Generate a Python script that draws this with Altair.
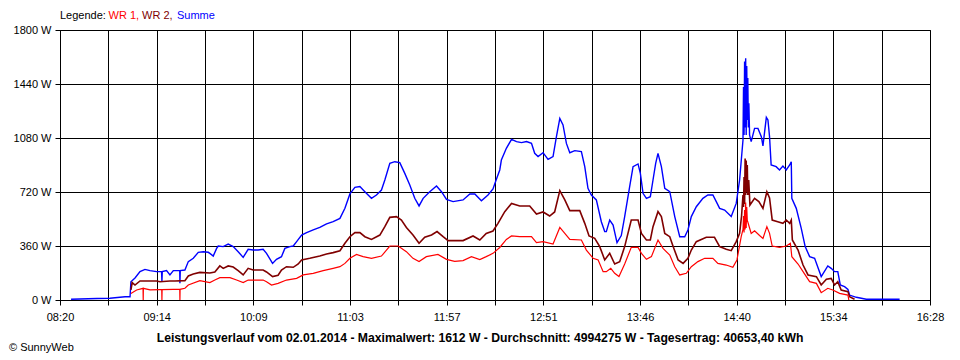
import altair as alt
import pandas as pd

# ---- data (minutes after 08:20, watts) ----
x_labels = ["08:20", "09:14", "10:09", "11:03", "11:57", "12:51", "13:46", "14:40", "15:34", "16:28"]
y_ticks = [0, 360, 720, 1080, 1440, 1800]
series_names = ["WR 1", "WR 2", "Summe"]
series_colors = ["#ff0000", "#800000", "#0000ff"]

summe_t = [6.2, 20.8, 28.0, 36.5, 39.3, 39.8, 42.1, 44.9, 47.7, 50.5, 54.2, 57.0, 57.2, 57.4, 59.8, 61.7, 63.6, 67.2, 67.3, 67.5,
           70.1, 72.0, 74.8, 77.6, 80.4, 83.2, 84.1, 86.0, 87.9, 88.8, 91.6, 94.4, 97.2, 100.0, 102.8, 105.6, 108.4, 111.2, 114.0, 115.9,
           119.3, 121.5, 124.3, 126.2, 129.0, 130.9, 132.8, 135.6, 138.4, 142.1, 145.8, 149.6, 153.3, 157.1, 159.9, 162.7, 165.5, 168.3,
           171.1, 174.8, 177.6, 180.4, 182.3, 185.1, 187.9, 190.7, 193.5, 196.3, 199.1, 201.5, 203.8, 207.5, 211.3, 214.1, 216.9, 220.6,
           226.2, 230.0, 232.8, 236.5, 240.2, 243.0, 244.9, 246.8, 247.7, 250.5, 253.4, 256.2, 259.0, 261.8, 264.6, 266.4, 268.3, 271.1,
           273.9, 276.7, 278.6, 280.5, 282.3, 284.2, 286.1, 288.9, 292.6, 294.5, 296.3, 298.2, 301.0, 303.8, 305.7, 306.6, 308.5, 310.4,
           312.6, 315.0, 316.9, 319.7, 321.6, 324.4, 325.7, 327.2, 329.1, 331.3, 332.8, 334.3, 335.6, 337.5, 339.4, 342.2, 345.0, 347.8,
           350.6, 352.4, 354.3, 357.1, 360.8, 363.6, 366.4, 368.3, 370.2, 373.0, 376.7, 379.5, 381.4, 383.3, 383.6, 383.9, 384.2, 384.5,
           384.8, 385.1, 385.4, 385.7, 386.0, 386.3, 386.6, 387.0, 387.9, 389.8, 391.7, 393.6, 394.5, 396.4, 397.3, 398.2, 399.1, 401.9,
           403.8, 405.7, 407.6, 409.5, 410.4, 410.7, 413.2, 416.0, 418.2, 420.7, 423.5, 427.2, 430.9, 432.8, 434.7, 436.5, 437.9, 440.3,
           442.2, 443.1, 446.9, 452.5, 471.2]
summe_w = [5, 10, 12, 22, 22, 122, 147, 189, 204, 196, 189, 189, 122, 189, 196, 167, 196, 196, 111, 196,
           200, 256, 278, 318, 322, 318, 311, 293, 344, 360, 356, 373, 356, 322, 284, 338, 333, 333, 338, 311,
           244, 271, 289, 344, 356, 360, 389, 433, 449, 467, 484, 507, 522, 544, 611, 707, 751, 756,
           722, 678, 700, 733, 800, 911, 922, 916, 844, 767, 678, 627, 678, 722, 760, 722, 671, 656,
           667, 707, 707, 662, 700, 740, 805, 867, 933, 1011, 1071, 1056, 1049, 1056, 1044, 978, 956, 982,
           938, 956, 1089, 1211, 1167, 1044, 982, 996, 989, 889, 744, 700, 667, 522, 456, 456, 533, 500,
           382, 430, 556, 756, 889, 907, 844, 711, 678, 689, 800, 911, 978, 889, 744, 722, 556, 422,
           422, 467, 556, 622, 678, 700, 700, 656, 611, 600, 556, 644, 800, 1067, 1420, 1100, 1590, 1150,
           1612, 1100, 1560, 1200, 1480, 1150, 1311, 1100, 1056, 1144, 1144, 1089, 1027, 1218, 1200, 1089, 900, 889,
           867, 893, 867, 900, 922, 678, 611, 478, 356, 289, 278, 156, 227, 211, 189, 189, 100, 89,
           71, 33, 18, 5, 5]

wr2_t = [39.8, 40.5, 42.1, 44.9, 54.2, 56.1, 61.7, 64.5, 70.1, 72.0, 74.8, 78.5, 84.1, 86.9, 89.7, 91.6, 94.4, 97.2, 100.0, 102.8,
         105.6, 108.4, 114.0, 115.9, 119.3, 122.4, 124.3, 127.1, 130.9, 133.7, 135.6, 140.2, 145.8, 149.6, 153.3, 157.1, 159.9, 162.7,
         165.5, 168.3, 171.1, 174.8, 179.5, 182.3, 185.1, 188.8, 191.6, 194.4, 198.1, 201.5, 204.7, 208.5, 211.6, 215.0, 217.8, 226.2,
         231.8, 235.6, 239.2, 243.0, 245.8, 249.6, 253.4, 258.0, 263.6, 267.4, 271.1, 274.8, 277.6, 280.5, 283.3, 286.1, 291.7, 294.5,
         296.9, 300.1, 302.9, 305.7, 308.5, 311.3, 314.1, 316.9, 320.6, 324.4, 326.3, 329.1, 331.3, 332.8, 335.6, 337.5, 339.4, 342.2,
         344.1, 346.9, 349.7, 352.4, 354.3, 357.1, 362.7, 367.3, 370.2, 373.9, 376.7, 379.5, 381.4, 382.5, 383.3, 383.6, 383.9, 384.2,
         384.5, 384.8, 385.1, 385.4, 385.7, 386.0, 386.5, 387.2, 389.8, 392.2, 394.5, 396.7, 398.2, 399.7, 402.8, 405.7, 407.6, 409.5,
         410.4, 411.0, 414.2, 417.0, 419.8, 424.5, 427.2, 430.1, 432.8, 434.7, 436.5, 438.4, 442.2, 443.1, 445.9]
wr2_w = [67, 116, 100, 127, 127, 122, 127, 127, 129, 160, 173, 184, 180, 187, 227, 211, 227, 220, 196, 167,
         211, 200, 200, 187, 156, 165, 200, 222, 218, 240, 267, 278, 293, 307, 316, 328, 378, 422,
         449, 449, 422, 404, 433, 489, 551, 556, 533, 484, 433, 378, 418, 433, 456, 422, 396, 396,
         427, 400, 444, 460, 511, 589, 644, 627, 627, 573, 587, 560, 587, 729, 667, 596, 596, 511,
         427, 411, 356, 267, 311, 240, 255, 356, 533, 533, 444, 400, 400, 489, 589, 556, 444, 422,
         356, 267, 244, 278, 333, 389, 418, 418, 356, 338, 329, 389, 444, 560, 700, 620, 820, 640,
         944, 700, 930, 720, 900, 700, 800, 633, 678, 656, 611, 722, 680, 533, 522, 511, 533, 511,
         533, 400, 333, 233, 167, 156, 100, 138, 144, 100, 122, 67, 56, 22, 5]

wr1_t = [39.8, 43.0, 46.6, 46.7, 46.8, 50.5, 56.1, 57.1, 57.2, 57.3, 63.6, 67.2, 67.3, 67.4, 70.1, 72.0, 78.5, 84.1, 86.9, 89.7,
         95.4, 99.1, 102.8, 105.6, 114.0, 115.9, 118.7, 122.4, 127.1, 132.8, 136.5, 142.1, 147.7, 153.3, 157.1, 159.9, 162.7, 166.4,
         170.1, 174.8, 180.4, 185.1, 189.8, 194.4, 198.1, 201.5, 205.6, 212.1, 216.9, 221.5, 226.2, 230.9, 235.6, 239.2, 243.0, 246.8,
         250.5, 253.4, 258.0, 264.6, 267.4, 271.1, 276.7, 280.5, 283.3, 286.1, 292.6, 295.4, 299.2, 302.0, 304.8, 306.6, 309.1, 311.3,
         313.7, 316.9, 320.6, 324.4, 326.3, 329.1, 331.9, 335.6, 338.4, 342.2, 345.0, 347.8, 351.5, 354.3, 358.0, 361.8, 366.4, 369.2,
         373.9, 377.6, 379.9, 382.3, 383.3, 383.6, 383.9, 384.2, 384.5, 384.8, 385.1, 385.4, 385.7, 386.5, 387.9, 389.8, 392.6, 394.5,
         396.7, 398.2, 399.7, 403.8, 407.6, 409.9, 410.7, 414.2, 417.0, 420.7, 424.5, 427.2, 430.9, 433.7, 437.5, 442.2, 442.7]
wr1_w = [44, 67, 78, 0, 78, 67, 69, 69, 0, 69, 71, 71, 0, 71, 78, 100, 129, 116, 133, 149,
         149, 133, 116, 133, 133, 122, 100, 111, 133, 144, 167, 178, 196, 211, 222, 244, 278, 304,
         289, 278, 293, 360, 360, 322, 278, 256, 289, 304, 271, 258, 263, 289, 270, 289, 311, 350,
         404, 427, 422, 422, 382, 389, 373, 484, 444, 404, 400, 333, 278, 267, 189, 189, 211, 178,
         156, 240, 351, 351, 311, 271, 289, 400, 344, 300, 222, 167, 178, 222, 256, 278, 278, 244,
         233, 218, 267, 422, 470, 560, 450, 600, 470, 650, 480, 620, 533, 500, 444, 462, 430, 411,
         489, 444, 360, 351, 360, 378, 289, 240, 189, 122, 111, 49, 78, 67, 44, 33, 0]

title_text = ("Leistungsverlauf vom 02.01.2014 - Maximalwert: 1612 W - "
              "Durchschnitt: 4994275 W - Tagesertrag: 40653,40 kWh")

# ---- chart ----
STEP = 54.25
x_end = STEP * 9
grid_vals = [i * STEP / 2 for i in range(19)]
label_arr = "[" + ",".join("'%s'" % s for s in x_labels) + "]"
FONT = "Liberation Sans"

x_enc = alt.X("t:Q", scale=alt.Scale(domain=[0, x_end], nice=False, zero=False),
              axis=alt.Axis(values=grid_vals, title=None, grid=True, tickSize=5,
                            labelPadding=6, labelFlush=False, labelOverlap=False,
                            labelExpr="round(datum.value/%s) %% 2 == 0 ? %s[round(datum.value/%s)] : ''"
                                      % (STEP / 2, label_arr, STEP)))
y_enc = alt.Y("w:Q", scale=alt.Scale(domain=[0, 1800], nice=False),
              axis=alt.Axis(values=y_ticks, title=None, grid=True, tickSize=5, labelPadding=4,
                            labelExpr="datum.value + ' W'"))


def line(ts, ws, color, sw):
    df = pd.DataFrame({"t": ts, "w": ws})
    return alt.Chart(df).mark_line(color=color, strokeWidth=sw, interpolate="linear").encode(x=x_enc, y=y_enc)


def text(s, x, y, color="black", bold=False, align="left", size=11):
    return alt.Chart(pd.DataFrame({"s": [s]})).mark_text(
        align=align, baseline="middle", font=FONT, fontSize=size, color=color,
        fontWeight="bold" if bold else "normal"
    ).encode(text="s:N", x=alt.value(x), y=alt.value(y))


layers = [
    line(summe_t, summe_w, series_colors[2], 1.4),
    line(wr2_t, wr2_w, series_colors[1], 1.6),
    line(wr1_t, wr1_w, series_colors[0], 1.2),
    text("Legende:", 0, -14),
    text(series_names[0] + ",", 48.5, -14, series_colors[0]),
    text(series_names[1] + ",", 82, -14, series_colors[1]),
    text(series_names[2], 117, -14, series_colors[2]),
    text(title_text, 420, 308, bold=True, align="center", size=12.2),
    text("\u00a9 SunnyWeb", -51, 318),
]

chart = alt.layer(*layers).properties(
    width=870, height=270,
    padding={"left": 52, "top": 22, "right": 22, "bottom": 58},
    autosize=alt.AutoSizeParams(type="none"),
).configure_axis(
    domainColor="black", gridColor="black", gridOpacity=1, gridWidth=1,
    tickColor="black", labelColor="black", labelFont=FONT, labelFontSize=11,
    domainWidth=1, tickWidth=1,
).configure_view(stroke="black", strokeWidth=1)

chart.save("out.html", embed_options={"renderer": "svg", "actions": False})
